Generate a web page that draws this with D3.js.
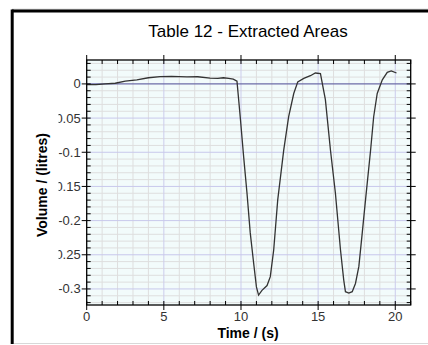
<!DOCTYPE html>
<html>
<head>
<meta charset="utf-8">
<script src="https://cdn.jsdelivr.net/npm/d3@7"></script>
<style>
  html, body { margin: 0; padding: 0; background: #fff; }
  svg { display: block; font-family: "Liberation Sans", Arial, sans-serif; }
</style>
</head>
<body>
<div id="chart"></div>
<script>
// data
const TIME = [0, 0.6, 1.2, 1.85, 2.5, 3.25, 4.0, 4.76, 5.5, 6.5, 7.2, 8.0, 8.5, 8.86, 9.2, 9.5, 9.74,
  9.95, 10.17, 10.39, 10.6, 10.82, 11.0, 11.14, 11.36, 11.69, 11.9, 12.12, 12.38, 12.77, 13.09, 13.42,
  13.68, 14.07, 14.5, 14.82, 15.15, 15.47, 15.8, 16.12, 16.45, 16.66, 16.77, 16.99, 17.21, 17.42,
  17.64, 17.86, 18.07, 18.4, 18.6, 18.83, 19.16, 19.48, 19.74, 20.08];
const VOLUME = [-0.001, -0.001, 0.0, 0.001, 0.004, 0.006, 0.009, 0.0107, 0.011, 0.0103, 0.0105, 0.0085, 0.008, 0.009, 0.008, 0.007, 0.004,
  -0.048, -0.106, -0.160, -0.218, -0.262, -0.297, -0.309, -0.302, -0.295, -0.282, -0.243, -0.170, -0.097, -0.048, -0.014,
  0.003, 0.008, 0.012, 0.016, 0.015, -0.023, -0.097, -0.160, -0.243, -0.287, -0.304, -0.306, -0.304, -0.292,
  -0.267, -0.218, -0.170, -0.097, -0.048, -0.014, 0.006, 0.017, 0.019, 0.016];

const X_TICKS = [0, 5, 10, 15, 20];
const Y_TICKS = [0, -0.05, -0.1, -0.15, -0.2, -0.25, -0.3];
const Y_LABELS = ["0", "-0.05", "-0.1", "-0.15", "-0.2", "-0.25", "-0.3"];

const TITLE = "Table 12 - Extracted Areas";
const X_TITLE = "Time / (s)";
const Y_TITLE = "Volume / (litres)";

const W = 428, H = 345;
const plot = { left: 86.7, right: 410.7, top: 60, bottom: 305 };

const svg = d3.select("#chart").append("svg")
  .attr("width", W)
  .attr("height", H);

// outer frame
svg.append("line").attr("x1", 12).attr("x2", W).attr("y1", 9.2).attr("y2", 9.2)
  .attr("stroke", "#ccc").attr("stroke-width", 1);
svg.append("line").attr("x1", 12).attr("x2", W).attr("y1", 11).attr("y2", 11)
  .attr("stroke", "#000").attr("stroke-width", 3);
svg.append("line").attr("x1", 12.2).attr("x2", 12.2).attr("y1", 9.5).attr("y2", 344)
  .attr("stroke", "#000").attr("stroke-width", 3);
svg.append("line").attr("x1", 14).attr("x2", W).attr("y1", 343.5).attr("y2", 343.5)
  .attr("stroke", "#d8d8d8").attr("stroke-width", 1);

const x = d3.scaleLinear().domain([0, 21]).range([plot.left, plot.right]);
const y = d3.scaleLinear().domain([-0.3235, 0.035]).range([plot.bottom, plot.top]);

// background
svg.append("rect")
  .attr("x", plot.left).attr("y", plot.top)
  .attr("width", plot.right - plot.left).attr("height", plot.bottom - plot.top)
  .attr("fill", "#f2fbfb");

// minor grid
const xMinor = d3.range(1, 21).filter(d => d % 5 !== 0);
const yMinor = d3.range(-32, 4).map(d => d / 100).filter(d => Math.round(d * 100) % 5 !== 0);

svg.append("g").selectAll("line").data(xMinor).join("line")
  .attr("x1", d => x(d)).attr("x2", d => x(d))
  .attr("y1", plot.top).attr("y2", plot.bottom)
  .attr("stroke", "#dedede").attr("stroke-width", 1);
svg.append("g").selectAll("line").data(yMinor).join("line")
  .attr("x1", plot.left).attr("x2", plot.right)
  .attr("y1", d => y(d)).attr("y2", d => y(d))
  .attr("stroke", "#dedede").attr("stroke-width", 1);

// major grid
svg.append("g").selectAll("line").data(X_TICKS.filter(d => d > 0)).join("line")
  .attr("x1", d => x(d)).attr("x2", d => x(d))
  .attr("y1", plot.top).attr("y2", plot.bottom)
  .attr("stroke", "#ccccec").attr("stroke-width", 1);
svg.append("g").selectAll("line").data(Y_TICKS.filter(d => d !== 0)).join("line")
  .attr("x1", plot.left).attr("x2", plot.right)
  .attr("y1", d => y(d)).attr("y2", d => y(d))
  .attr("stroke", "#c8c8ec").attr("stroke-width", 1);

// zero line
svg.append("line")
  .attr("x1", plot.left).attr("x2", plot.right)
  .attr("y1", y(0)).attr("y2", y(0))
  .attr("stroke", "#6c6ca8").attr("stroke-width", 1.2);

// curve
const line = d3.line().x((d, i) => x(TIME[i])).y(d => y(d));
svg.append("path")
  .datum(VOLUME)
  .attr("d", line)
  .attr("fill", "none")
  .attr("stroke", "#333")
  .attr("stroke-width", 1.3);

// axes (frame, minor ticks inward, major ticks outward)
const tickColor = "#000";
const yMinorAll = d3.range(-32, 4).map(d => d / 100);
const xMinorAll = d3.range(0, 22);

const axisBox = svg.append("g");
axisBox.append("rect")
  .attr("x", plot.left).attr("y", plot.top)
  .attr("width", plot.right - plot.left).attr("height", plot.bottom - plot.top)
  .attr("fill", "none").attr("stroke", tickColor).attr("stroke-width", 1.3);

// left / right minor ticks
axisBox.append("g").selectAll("line").data(yMinorAll).join("line")
  .attr("x1", plot.left).attr("x2", plot.left + 4)
  .attr("y1", d => y(d)).attr("y2", d => y(d))
  .attr("stroke", tickColor);
axisBox.append("g").selectAll("line").data(yMinorAll).join("line")
  .attr("x1", plot.right).attr("x2", plot.right - 4)
  .attr("y1", d => y(d)).attr("y2", d => y(d))
  .attr("stroke", tickColor);
// top / bottom minor ticks
axisBox.append("g").selectAll("line").data(xMinorAll).join("line")
  .attr("x1", d => x(d)).attr("x2", d => x(d))
  .attr("y1", plot.top).attr("y2", plot.top + 4)
  .attr("stroke", tickColor);
axisBox.append("g").selectAll("line").data(xMinorAll).join("line")
  .attr("x1", d => x(d)).attr("x2", d => x(d))
  .attr("y1", plot.bottom).attr("y2", plot.bottom - 4)
  .attr("stroke", tickColor);

// major ticks outward
axisBox.append("g").selectAll("line").data(Y_TICKS).join("line")
  .attr("x1", plot.left - 5).attr("x2", plot.left)
  .attr("y1", d => y(d)).attr("y2", d => y(d))
  .attr("stroke", tickColor);
axisBox.append("g").selectAll("line").data(Y_TICKS).join("line")
  .attr("x1", plot.right).attr("x2", plot.right + 5)
  .attr("y1", d => y(d)).attr("y2", d => y(d))
  .attr("stroke", tickColor);
axisBox.append("g").selectAll("line").data(X_TICKS).join("line")
  .attr("x1", d => x(d)).attr("x2", d => x(d))
  .attr("y1", plot.top - 5).attr("y2", plot.top)
  .attr("stroke", tickColor);
axisBox.append("g").selectAll("line").data(X_TICKS).join("line")
  .attr("x1", d => x(d)).attr("x2", d => x(d))
  .attr("y1", plot.bottom).attr("y2", plot.bottom + 5)
  .attr("stroke", tickColor);

// tick labels; the y labels are cut at the left like in the original
svg.append("clipPath").attr("id", "ylabClip")
  .append("rect").attr("x", 58.5).attr("y", 0).attr("width", 40).attr("height", H);

svg.append("g").attr("clip-path", "url(#ylabClip)")
  .selectAll("text").data(Y_TICKS).join("text")
  .attr("x", plot.left - 6)
  .attr("y", d => y(d))
  .attr("dy", "0.35em")
  .attr("text-anchor", "end")
  .attr("font-size", "13px")
  .attr("fill", "#333")
  .text((d, i) => Y_LABELS[i]);

svg.append("g").selectAll("text").data(X_TICKS).join("text")
  .attr("x", d => x(d))
  .attr("y", 321)
  .attr("text-anchor", "middle")
  .attr("font-size", "13px")
  .attr("fill", "#333")
  .text(d => d);

// titles
svg.append("text")
  .attr("x", 248).attr("y", 37)
  .attr("text-anchor", "middle")
  .attr("font-size", "17px")
  .attr("fill", "#000")
  .text(TITLE);

svg.append("text")
  .attr("x", 248).attr("y", 338)
  .attr("text-anchor", "middle")
  .attr("font-size", "14px")
  .attr("font-weight", "bold")
  .attr("fill", "#000")
  .text(X_TITLE);

svg.append("text")
  .attr("transform", "translate(47,185) rotate(-90)")
  .attr("text-anchor", "middle")
  .attr("font-size", "14px")
  .attr("font-weight", "bold")
  .attr("fill", "#000")
  .text(Y_TITLE);
</script>
</body>
</html>
